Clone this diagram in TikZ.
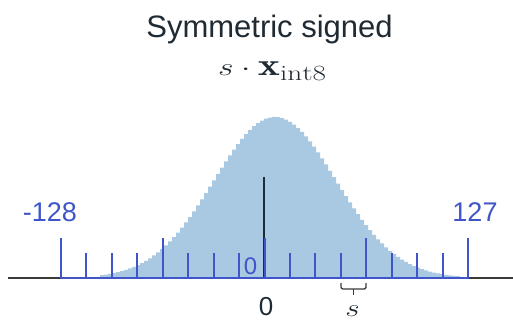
\documentclass[tikz,border=0pt]{standalone}
\usepackage{amsmath}
\usepackage{amssymb}
\usepackage{graphicx}
\usepackage{fontspec}
\setsansfont{Liberation Sans}
\usepackage{tikz}
\usetikzlibrary{
    arrows.meta,
    calc,
    positioning
}
\definecolor{ink}     {HTML}{1F2A33}
\definecolor{axisgray}{HTML}{3A3A3A}
\definecolor{qblue}   {HTML}{3F55C8}
\definecolor{histfill}{HTML}{A9C8E2}

\begin{document}
\begin{tikzpicture}[
    x=1pt, y=-1pt,
    line cap=butt, line join=round,
    %% --- semantic styles ---
    titletext/.style  = {font=\sffamily\fontsize{31}{31}\selectfont,
                         text=ink, anchor=base},
    mathtext/.style   = {font=\fontsize{31}{31}\selectfont,
                         text=ink, anchor=base},
    rangelabel/.style = {font=\sffamily\fontsize{27}{27}\selectfont,
                         text=qblue, anchor=base},
    valuelabel/.style = {font=\sffamily\fontsize{26}{26}\selectfont,
                         text=ink, anchor=base},
    baseaxis/.style   = {draw=axisgray, line width=1.3pt},
    qaxis/.style      = {draw=qblue, line width=2pt},
    qtick/.style      = {draw=qblue, line width=2pt},
    zeroline/.style   = {draw=ink, line width=1.5pt},
    bracket/.style    = {draw=axisgray, line width=1.3pt, rounded corners=2pt}
]
\useasboundingbox (0,0) rectangle (513,324);

%% =====================================================
%% Title
%% =====================================================
\node[titletext] (TITLE) at (269.5, 37) {Symmetric signed};
\node[mathtext] (FORMULA) at (272.5, 75)
    {\scalebox{1.35}[1]{$s\cdot\mathbf{x}_{\mathrm{int8}}$}};

%% =====================================================
%% Histogram of the values
%% =====================================================
\fill[histfill] (100, 278)
    -- plot[const plot, domain=100:460, samples=91]
       (\x, {278 - 161*exp(-0.5*((\x-273)/61)^2)})
    -- (460, 278) -- cycle;

%% =====================================================
%% Axis and the int8 grid
%% =====================================================
\coordinate (AXL) at (8, 278);
\coordinate (AXR) at (513, 278);
\coordinate (QMIN) at (61, 278);
\coordinate (QMAX) at (468, 278);
\draw[baseaxis] (AXL) -- (AXR);

\coordinate (ZTOP) at (264, 177);
\draw[zeroline] (ZTOP) -- (ZTOP |- AXL);

\draw[qaxis] (QMIN) -- (QMAX);
\foreach \i in {0,...,16} {
    \pgfmathtruncatemacro{\tx}{round(61 + \i*25.4375)}
    \pgfmathtruncatemacro{\major}{mod(\i,4)}
    \ifnum\major=0
        \draw[qtick] (\tx, 279) -- (\tx, 238);
    \else
        \draw[qtick] (\tx, 279) -- (\tx, 253);
    \fi
}

\node[rangelabel] (LMIN) at (50, 221) {-128};
\node[rangelabel] (LMAX) at (475, 221) {127};
\node[rangelabel, font=\sffamily\fontsize{24}{24}\selectfont] (LZERO) at (250.5, 274) {0};

%% =====================================================
%% Real zero and the step s
%% =====================================================
\node[valuelabel] (ZERO) at (266, 315) {0};

\coordinate (BL) at (341, 283);
\coordinate (BR) at (366, 283);
\draw[bracket] (BL) -- ++(0, 6) -- ($(BR) + (0, 6)$) -- (BR);
\draw[draw=axisgray, line width=1.3pt] ($(BL)!0.5!(BR) + (0, 6)$) -- ++(0, 6);
\node[mathtext, font=\fontsize{34}{34}\selectfont] (STEP) at (352.5, 316.5)
    {\scalebox{1.25}[1]{$s$}};

\end{tikzpicture}
\end{document}
